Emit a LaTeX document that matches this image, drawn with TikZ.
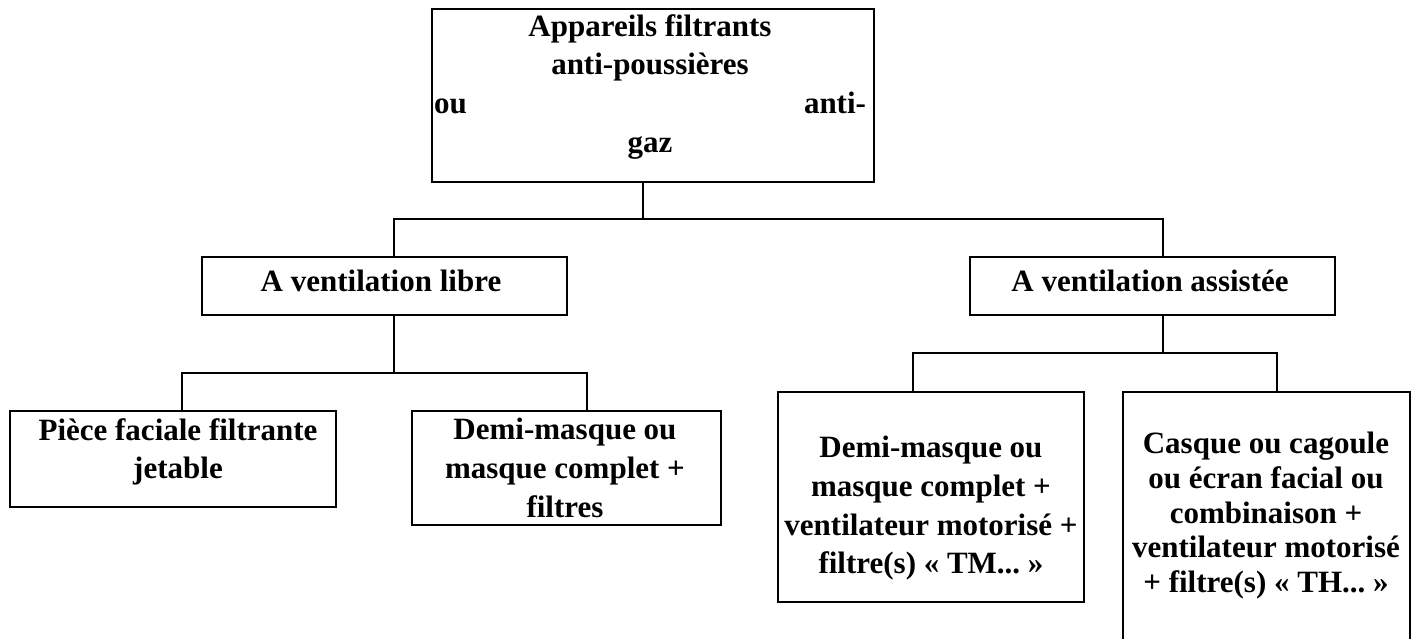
\documentclass[tikz,border=0pt]{standalone}
\usepackage{fontspec}
\setmainfont{Liberation Serif}
\usetikzlibrary{fit}
\usetikzlibrary{positioning}

\begin{document}
\begin{tikzpicture}[x=0.5pt,y=-0.5pt]
	\tikzstyle{rect} = [rectangle, draw=black, line width=1pt, inner sep=0pt]
	\tikzstyle{txt} = [font=\fontsize{15.5}{19.3}\bfseries\selectfont, align=center, inner sep=0pt, anchor=north]
	\tikzstyle{link} = [line width=1pt]
	\useasboundingbox (0,0) rectangle (1425,638);
	\clip (0,0) rectangle (1425,638);

	% boxes
	\node (appareils) [rect, fit={(432,9) (874,182)}] {};
	\node (libre) [rect, fit={(202,257) (567,315)}] {};
	\node (assistee) [rect, fit={(970,257) (1335,315)}] {};
	\node (jetable) [rect, fit={(10,411) (336,507)}] {};
	\node (filtres) [rect, fit={(412,411) (721,525)}] {};
	\node (tm) [rect, fit={(778,392) (1084,602)}] {};
	\node (th) [rect, fit={(1123,392) (1410,660)}] {};

	% texts
	\node [txt] at (650,14) {Appareils filtrants\\anti-poussières\\\makebox[216pt]{ou\hfill anti-}\\gaz};
	\node [txt] at (381,270) {A ventilation libre};
	\node [txt] at (1150,270) {A ventilation assistée};
	\node [txt] at (178,418) {Pièce faciale filtrante\\jetable};
	\node [txt] at (565,418) {Demi-masque ou\\masque complet +\\filtres};
	\node [txt] at (931,436) {Demi-masque ou\\masque complet +\\ventilateur motorisé +\\filtre(s) «~TM...~»};
	\node [txt, font=\fontsize{15.5}{17.3}\bfseries\selectfont] at (1266,432) {Casque ou cagoule\\ou écran facial ou\\combinaison +\\ventilateur motorisé\\+ filtre(s) «~TH...~»};

	% tree
	\coordinate (bus1) at (643,219);
	\coordinate (bus2) at (394,373);
	\coordinate (bus3) at (1163,353);
	\draw [link] (appareils.south -| bus1) -- (bus1);
	\draw [link] (libre.north -| bus2) |- (bus1) -| (assistee.north -| bus3);
	\draw [link] (libre.south -| bus2) -- (bus2);
	\draw [link] (jetable.north -| 182,0) |- (bus2) -| (filtres.north -| 587,0);
	\draw [link] (assistee.south -| bus3) -- (bus3);
	\draw [link] (tm.north -| 913,0) |- (bus3) -| (th.north -| 1277,0);
\end{tikzpicture}
\end{document}
